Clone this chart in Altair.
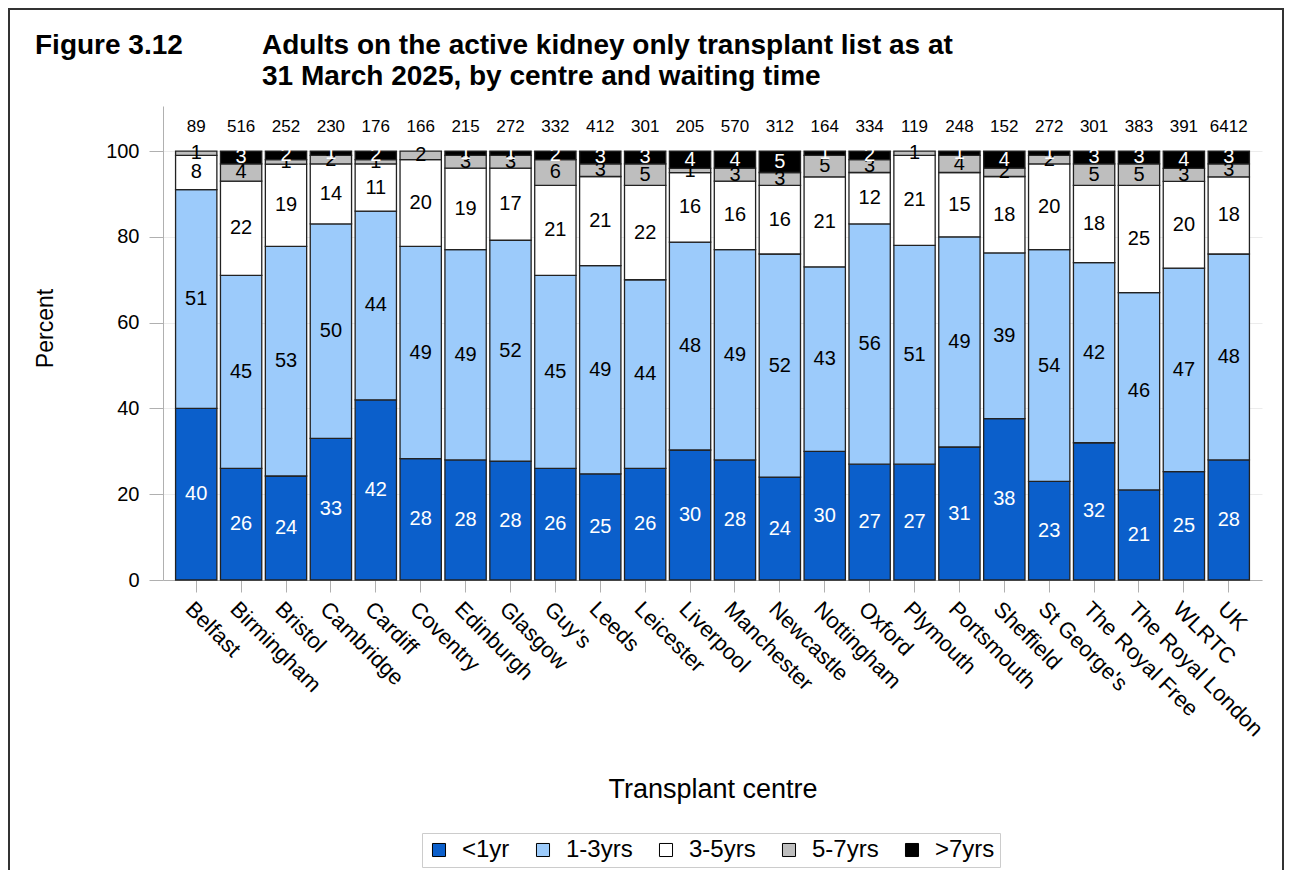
import altair as alt
import pandas as pd

centres = ["Belfast", "Birmingham", "Bristol", "Cambridge", "Cardiff", "Coventry",
           "Edinburgh", "Glasgow", "Guy's", "Leeds", "Leicester", "Liverpool",
           "Manchester", "Newcastle", "Nottingham", "Oxford", "Plymouth",
           "Portsmouth", "Sheffield", "St George's", "The Royal Free",
           "The Royal London", "WLRTC", "UK"]
n_patients = [89, 516, 252, 230, 176, 166, 215, 272, 332, 412, 301, 205, 570, 312,
              164, 334, 119, 248, 152, 272, 301, 383, 391, 6412]

cats = ["<1yr", "1-3yrs", "3-5yrs", "5-7yrs", ">7yrs"]
colors = ["#0B5FCB", "#9CCBFB", "#FFFFFF", "#BEBEBE", "#000000"]

lt1 = [40, 26, 24, 33, 42, 28, 28, 28, 26, 25, 26, 30, 28, 24, 30, 27, 27, 31, 38, 23, 32, 21, 25, 28]
y1_3 = [51, 45, 53, 50, 44, 49, 49, 52, 45, 49, 44, 48, 49, 52, 43, 56, 51, 49, 39, 54, 42, 46, 47, 48]
y3_5 = [8, 22, 19, 14, 11, 20, 19, 17, 21, 21, 22, 16, 16, 16, 21, 12, 21, 15, 18, 20, 18, 25, 20, 18]
y5_7 = [1, 4, 1, 2, 1, 2, 3, 3, 6, 3, 5, 1, 3, 3, 5, 3, 1, 4, 2, 2, 5, 5, 3, 3]
gt7 = [0, 3, 2, 1, 2, 0, 1, 1, 2, 3, 3, 4, 4, 5, 1, 2, 0, 1, 4, 1, 3, 3, 4, 3]

series = [lt1, y1_3, y3_5, y5_7, gt7]

fig_label = "Figure 3.12"
title_text = ("Adults on the active kidney only transplant list as at\n"
              "31 March 2025, by centre and waiting time")

rows = []
for i, c in enumerate(centres):
    vals = [s[i] for s in series]
    tot = sum(vals)
    cum = 0.0
    for k, cat in enumerate(cats):
        v = vals[k]
        p = v / tot * 100.0
        if v > 0:
            rows.append({"centre": c, "cat": cat, "order": k, "value": v,
                         "y0": cum, "y1": cum + p, "mid": cum + p / 2})
        cum += p
df = pd.DataFrame(rows)
df_n = pd.DataFrame({"centre": centres, "n": n_patients})
df_head = pd.DataFrame({"fig": [fig_label], "title": [title_text]})

FONT = "Liberation Sans"
W, H = 1099, 474

xenc = alt.X("centre:N", sort=centres,
             scale=alt.Scale(paddingInner=0.08, paddingOuter=0.28),
             axis=alt.Axis(title="Transplant centre", labelAngle=45, labelAlign="left",
                           labelBaseline="top", labelFontSize=22, labelPadding=6,
                           tickSize=12, tickColor="#b0b0b0", domainColor="#b0b0b0",
                           titleFontSize=27, titleY=209, titleBaseline="middle",
                           titleFontWeight="normal"))
yscale = alt.Scale(domain=[0, 110.5], nice=False)

bars = alt.Chart(df).mark_bar(stroke="#222222", strokeWidth=1.3).encode(
    x=xenc,
    y=alt.Y("y0:Q", scale=yscale,
            axis=alt.Axis(title="Percent", values=[0, 20, 40, 60, 80, 100],
                          labelFontSize=20, tickSize=14, labelPadding=10,
                          tickColor="#b0b0b0", domainColor="#b0b0b0",
                          grid=True, gridColor="#ececec", titleFontSize=23,
                          titleFontWeight="normal", titleX=-118, titleY=222,
                          titleBaseline="middle", titleAngle=270)),
    y2="y1:Q",
    color=alt.Color("cat:N", sort=cats, scale=alt.Scale(domain=cats, range=colors),
                    legend=alt.Legend(title=None, orient="none", direction="horizontal",
                                      legendX=259, legendY=727, symbolType="square",
                                      symbolSize=170, symbolStrokeColor="black",
                                      symbolStrokeWidth=1, labelFontSize=24,
                                      labelOffset=11, columnPadding=21, padding=5,
                                      strokeColor="#cccccc", labelFont=FONT)),
    order=alt.Order("order:Q"),
)

labels = alt.Chart(df).mark_text(fontSize=20, font=FONT).encode(
    x=alt.X("centre:N", sort=centres),
    y=alt.Y("mid:Q", scale=yscale),
    text=alt.Text("value:Q"),
    color=alt.condition("datum.cat === '<1yr' || datum.cat === '>7yrs'",
                        alt.value("white"), alt.value("black")),
)

ntext = alt.Chart(df_n).mark_text(fontSize=17, font=FONT, color="black").encode(
    x=alt.X("centre:N", sort=centres),
    y=alt.datum(105.5),
    text=alt.Text("n:Q"),
)

fig = alt.Chart(df_head).mark_text(fontSize=28, fontWeight="bold", font=FONT,
                                   align="left", baseline="alphabetic", color="black").encode(
    x=alt.value(-128), y=alt.value(-52), text="fig:N")

title = alt.Chart(df_head).mark_text(fontSize=28, fontWeight="bold", font=FONT,
                                     align="left", baseline="alphabetic", color="black",
                                     lineBreak="\n", lineHeight=31).encode(
    x=alt.value(99), y=alt.value(-52), text="title:N")

frame = alt.Chart(df_head).mark_rect(fill="transparent", stroke="#333333", strokeWidth=2).encode(
    x=alt.value(-154), x2=alt.value(W + 21), y=alt.value(-97), y2=alt.value(H + 330))

chart = alt.layer(bars, labels, ntext, fig, title, frame).properties(
    width=W, height=H,
    autosize=alt.AutoSizeParams(type="none"),
    padding={"left": 155, "top": 98, "right": 24, "bottom": 290},
).configure(font=FONT).configure_axis(
    labelFont=FONT, titleFont=FONT, labelColor="black", titleColor="black"
).configure_view(stroke=None)

chart.save("out.html", embed_options={"renderer": "svg", "actions": False})
